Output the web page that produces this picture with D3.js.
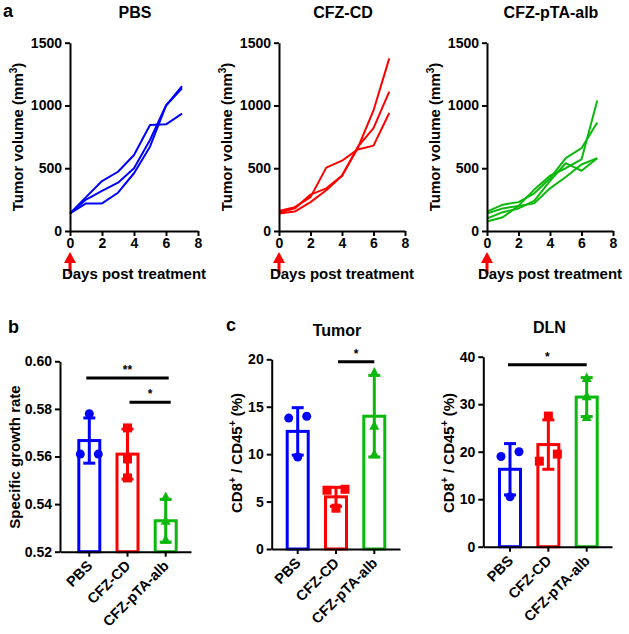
<!DOCTYPE html>
<html><head><meta charset="utf-8">
<script src="https://cdn.jsdelivr.net/npm/d3@7"></script>
<style>
body{margin:0;background:#fff;}
text{font-family:"Liberation Sans",Arial,sans-serif;font-weight:bold;}
</style></head>
<body><svg id="c" width="629" height="634"></svg>
<script>
// ---------- DATA ----------
const days = [0,1,2,3,4,5,6,7];
const groups = ["PBS","CFZ-CD","CFZ-pTA-alb"];
const colors = ["#0000ff","#ff0000","#0cb80c"];
const volPBS = [
  [140,270,398,472,605,844,850,935],
  [140,250,320,385,500,725,1000,1136],
  [140,220,220,305,460,672,998,1155]
];
const volCD = [
  [160,190,270,505,560,650,680,940],
  [145,180,290,340,440,670,820,1110],
  [140,155,230,325,440,660,960,1375]
];
const volAlb = [
  [155,210,230,300,420,580,660,865],
  [140,180,200,330,440,500,570,1040],
  [100,150,180,240,400,540,480,580],
  [75,110,200,220,340,430,530,580]
];
const volTicks = [0,500,1000,1500];
const dayTicks = [0,2,4,6,8];

const sgrMean = [0.5667,0.561,0.533];
const sgrSD = [0.0095,0.0105,0.009];
const sgrPts = [[0.578,0.561,0.561],[0.572,0.559,0.551],[0.543,0.533,0.525]];
const sgrTicks = [0.52,0.54,0.56,0.58,0.60];

const tumMean = [12.4,5.5,14.0];
const tumSD = [2.5,1.0,4.3];
const tumPts = [[13.8,14.0,9.7],[6.2,6.3,4.3],[18.6,13.0,10.0]];
const tumTicks = [0,5,10,15,20];

const dlnMean = [16.3,21.5,31.5];
const dlnSD = [5.4,5.2,4.1];
const dlnPts = [[19,20,10.5],[27.5,18,19.5],[35.5,31.7,27.3]];
const dlnTicks = [0,10,20,30,40];

const svg = d3.select("#c");

function styleAxis(a){
  a.selectAll("path,line").attr("stroke","#000").attr("stroke-width",2);
  a.selectAll("text").attr("font-size",14).attr("fill","#000")
   .attr("font-family","'Liberation Sans',Arial,sans-serif").attr("font-weight","bold");
}

// ---------- Panel a ----------
function linePanel(x0,x1,title,series,color){
  const x = d3.scaleLinear().domain([0,8]).range([x0,x1]);
  const y = d3.scaleLinear().domain([0,1500]).range([231,42.7]);
  const g = svg.append("g");
  const line = d3.line().x((d,i)=>x(days[i])).y(d=>y(d));
  series.forEach(s=>g.append("path").attr("d",line(s)).attr("fill","none")
     .attr("stroke",color).attr("stroke-width",2).attr("stroke-linejoin","round"));
  const ya = g.append("g").attr("transform",`translate(${x0},0)`)
     .call(d3.axisLeft(y).tickValues(volTicks).tickFormat(d3.format("d")).tickSize(5).tickSizeOuter(0).tickPadding(3));
  styleAxis(ya);
  const xa = g.append("g").attr("transform",`translate(0,231)`)
     .call(d3.axisBottom(x).tickValues(dayTicks).tickFormat(d3.format("d")).tickSize(5).tickSizeOuter(0).tickPadding(2));
  styleAxis(xa);
  // treatment arrow
  const ax = x(0);
  g.append("path").attr("d",`M${ax},252 L${ax-6},263 L${ax+6},263 Z`).attr("fill","#ff0000");
  g.append("line").attr("x1",ax).attr("x2",ax).attr("y1",262).attr("y2",274)
     .attr("stroke","#ff0000").attr("stroke-width",3);
  g.append("text").attr("x",(x0+x1)/2).attr("y",279).attr("text-anchor","middle")
     .attr("font-size",15).text("Days post treatment");
  g.append("text").attr("x",(x0+x1)/2+1).attr("y",18).attr("text-anchor","middle")
     .attr("font-size",16).text(title);
  const yl = g.append("text").attr("transform",`translate(${x0-47},137) rotate(-90)`)
     .attr("text-anchor","middle").attr("font-size",15);
  yl.append("tspan").text("Tumor volume (mm");
  yl.append("tspan").attr("font-size",10).attr("dy",-6).text("3");
  yl.append("tspan").attr("dy",6).text(")");
}
linePanel(70,198,"PBS",volPBS,colors[0]);
linePanel(279,405,"CFZ-CD",volCD,colors[1]);
linePanel(487,613,"CFZ-pTA-alb",volAlb,colors[2]);
svg.append("text").attr("x",3).attr("y",17).attr("font-size",18).text("a");

// ---------- bar panels ----------
function jitter(vals,y){
  const off = vals.map(()=>0);
  const idx = vals.map((v,i)=>i).sort((a,b)=>vals[a]-vals[b]);
  for(let k=0;k<idx.length-1;k++){
    const a=idx[k], b=idx[k+1];
    if(Math.abs(y(vals[a])-y(vals[b]))<8 && off[a]===0 && off[b]===0){ off[a]=-9; off[b]=9; }
  }
  return off;
}
function marker(g,type,cx,cy,color){
  if(type===0) g.append("circle").attr("cx",cx).attr("cy",cy).attr("r",4.5).attr("fill",color);
  else if(type===1) g.append("rect").attr("x",cx-4.5).attr("y",cy-4.5).attr("width",9).attr("height",9).attr("fill",color);
  else g.append("path").attr("d",`M${cx},${cy-5.5} L${cx-5},${cy+4} L${cx+5},${cy+4} Z`).attr("fill",color);
}
function barPanel(o){
  const g = svg.append("g");
  const y = d3.scaleLinear().domain(o.domain).range([o.yb,o.yt]);
  const x = d3.scalePoint().domain(groups).range([o.c0,o.c2]);
  const bw = 24;
  groups.forEach((grp,i)=>{
    const cx = x(grp), col = colors[i];
    g.append("rect").attr("x",cx-bw/2+1.5).attr("y",y(o.mean[i]))
      .attr("width",bw-3).attr("height",o.yb-y(o.mean[i])).attr("fill","#fff")
      .attr("stroke",col).attr("stroke-width",3);
    const hi=y(o.mean[i]+o.sd[i]), lo=y(o.mean[i]-o.sd[i]);
    g.append("line").attr("x1",cx).attr("x2",cx).attr("y1",hi).attr("y2",lo).attr("stroke",col).attr("stroke-width",3);
    [hi,lo].forEach(v=>g.append("line").attr("x1",cx-6).attr("x2",cx+6).attr("y1",v).attr("y2",v).attr("stroke",col).attr("stroke-width",3));
    const off = jitter(o.pts[i],y);
    o.pts[i].forEach((v,j)=>marker(g,i,cx+off[j],y(v),col));
  });
  const ya = g.append("g").attr("transform",`translate(${o.ax},0)`)
     .call(d3.axisLeft(y).tickValues(o.ticks).tickFormat(o.fmt).tickSize(5).tickSizeOuter(0).tickPadding(3));
  styleAxis(ya);
  const xs = d3.scaleLinear().domain([0,1]).range([o.ax,o.axEnd]);
  const xa = g.append("g").attr("transform",`translate(0,${o.yb})`)
     .call(d3.axisBottom(xs).tickValues([]).tickSizeOuter(0));
  styleAxis(xa);
  groups.forEach(grp=>{
    g.append("line").attr("x1",x(grp)).attr("x2",x(grp)).attr("y1",o.yb).attr("y2",o.yb+5).attr("stroke","#000").attr("stroke-width",2);
    g.append("text").attr("transform",`translate(${x(grp)+4},${o.yb+15}) rotate(-45)`)
      .attr("text-anchor","end").attr("font-size",14.5).text(grp);
  });
  o.sig.forEach(s=>{
    const yy = y(s.v);
    g.append("line").attr("x1",x(groups[s.a])+s.da).attr("x2",x(groups[s.b])+s.db).attr("y1",yy).attr("y2",yy)
      .attr("stroke","#000").attr("stroke-width",3);
    g.append("text").attr("x",(x(groups[s.a])+s.da+x(groups[s.b])+s.db)/2).attr("y",yy-4)
      .attr("text-anchor","middle").attr("font-size",12).text(s.t);
  });
  if(o.title) g.append("text").attr("x",(o.c0+o.c2)/2+1).attr("y",o.titleY).attr("text-anchor","middle").attr("font-size",16).text(o.title);
  const yl = g.append("text").attr("transform",`translate(${o.labX},${o.labY}) rotate(-90)`)
     .attr("text-anchor","middle").attr("font-size",15);
  o.label(yl);
}
const cdLabel = t=>{
  t.append("tspan").text("CD8");
  t.append("tspan").attr("font-size",10).attr("dy",-6).text("+");
  t.append("tspan").attr("dy",6).text(" / CD45");
  t.append("tspan").attr("font-size",10).attr("dy",-6).text("+");
  t.append("tspan").attr("dy",6).text(" (%)");
};
barPanel({domain:[0.52,0.60],yb:551.7,yt:361.3,ax:60,axEnd:191,c0:89.3,c2:165.7,
  mean:sgrMean,sd:sgrSD,pts:sgrPts,ticks:sgrTicks,fmt:d3.format(".2f"),
  sig:[{a:0,b:2,v:0.593,t:"**",da:-3,db:3},{a:1,b:2,v:0.5828,t:"*",da:2,db:5}],
  labX:20,labY:457,label:t=>t.text("Specific growth rate")});
barPanel({domain:[0,20],yb:549,yt:359.3,ax:271.7,axEnd:400,c0:297.7,c2:374.3,
  mean:tumMean,sd:tumSD,pts:tumPts,ticks:tumTicks,fmt:d3.format("d"),
  sig:[{a:1,b:2,v:19.75,t:"*",da:2,db:0}],title:"Tumor",titleY:336,
  labX:242,labY:453,label:cdLabel});
barPanel({domain:[0,40],yb:546.7,yt:356.7,ax:483.3,axEnd:612,c0:510,c2:586.7,
  mean:dlnMean,sd:dlnSD,pts:dlnPts,ticks:dlnTicks,fmt:d3.format("d"),
  sig:[{a:0,b:2,v:38.3,t:"*",da:-2,db:0}],title:"DLN",titleY:333,
  labX:454,labY:453,label:cdLabel});
svg.append("text").attr("x",8).attr("y",333).attr("font-size",18).text("b");
svg.append("text").attr("x",226).attr("y",331).attr("font-size",18).text("c");
</script></body></html>
